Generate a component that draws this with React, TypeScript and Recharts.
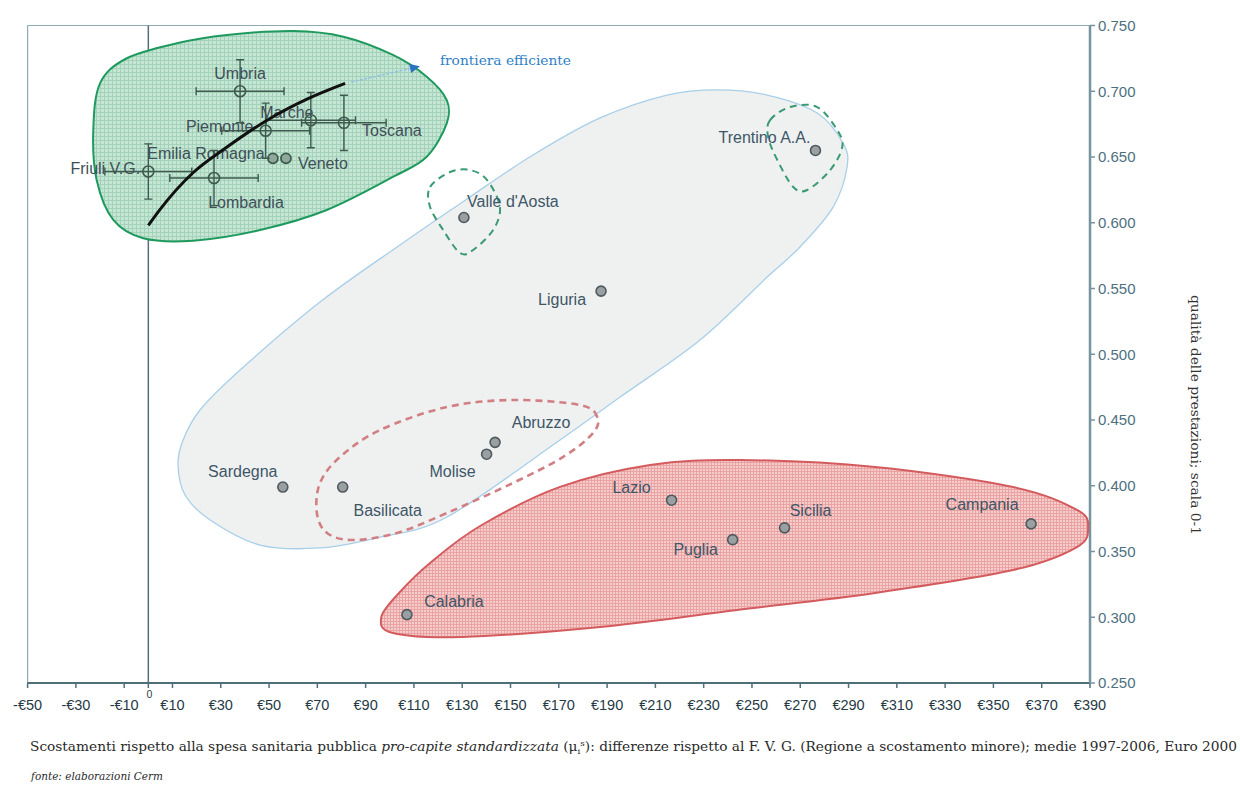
import React from 'react';
import { ScatterChart, Scatter, XAxis, YAxis, ReferenceLine } from 'recharts';

// ---------- axis ticks ----------
const xTicks = [-50, -30, -10, 0, 10, 30, 50, 70, 90, 110, 130, 150, 170, 190, 210, 230, 250, 270, 290, 310, 330, 350, 370, 390];
const yTicks = [0.25, 0.3, 0.35, 0.4, 0.45, 0.5, 0.55, 0.6, 0.65, 0.7, 0.75];

// ---------- regions ----------
const frontierRegions = [
  { name: 'Friuli V.G.', x: 0, y: 0.639, ex: 18, ey: 0.021 },
  { name: 'Lombardia', x: 27.2, y: 0.634, ex: 18.3, ey: 0.021 },
  { name: 'Umbria', x: 38, y: 0.7, ex: 18.2, ey: 0.024 },
  { name: 'Piemonte', x: 48.6, y: 0.67, ex: 18.2, ey: 0.021 },
  { name: 'Marche', x: 67.3, y: 0.678, ex: 18.5, ey: 0.021 },
  { name: 'Toscana', x: 81, y: 0.676, ex: 17.5, ey: 0.021 },
];
const nearFrontierRegions = [
  { name: 'Emilia Romagna', x: 51.6, y: 0.649 },
  { name: 'Veneto', x: 57, y: 0.649 },
];
const otherRegions = [
  { name: 'Trentino A.A.', x: 276.3, y: 0.655 },
  { name: "Valle d'Aosta", x: 130.7, y: 0.604 },
  { name: 'Liguria', x: 187.5, y: 0.548 },
  { name: 'Abruzzo', x: 143.6, y: 0.433 },
  { name: 'Molise', x: 140.1, y: 0.424 },
  { name: 'Sardegna', x: 55.7, y: 0.399 },
  { name: 'Basilicata', x: 80.5, y: 0.399 },
  { name: 'Lazio', x: 216.7, y: 0.389 },
  { name: 'Sicilia', x: 263.5, y: 0.368 },
  { name: 'Puglia', x: 242, y: 0.359 },
  { name: 'Campania', x: 365.6, y: 0.371 },
  { name: 'Calabria', x: 107.1, y: 0.302 },
];

// error-bar end points (pairs) built from the region table
const errorBarsX = frontierRegions.flatMap((r) => [
  { x: r.x - r.ex, y: r.y },
  { x: r.x + r.ex, y: r.y },
]);
const errorBarsY = frontierRegions.flatMap((r) => [
  { x: r.x, y: r.y - r.ey },
  { x: r.x, y: r.y + r.ey },
]);

// ---------- efficient frontier ----------
const frontierCurve = [
  { x: 0, y: 0.598 },
  { x: 4.8, y: 0.61 },
  { x: 18.5, y: 0.638 },
  { x: 32.6, y: 0.6576 },
  { x: 49.2, y: 0.678 },
  { x: 65.7, y: 0.694 },
  { x: 81.5, y: 0.706 },
];
const frontierArrow = [
  { x: 84, y: 0.707 },
  { x: 112.5, y: 0.719 },
];

// ---------- cluster outlines ----------
const greenCluster = [
  { x: 60.1, y: 0.7458 }, { x: 80.8, y: 0.7415 }, { x: 101.3, y: 0.7276 }, { x: 115.3, y: 0.7111 },
  { x: 123.6, y: 0.6933 }, { x: 123.6, y: 0.6756 }, { x: 115.3, y: 0.6502 }, { x: 101.5, y: 0.635 },
  { x: 73.9, y: 0.6097 }, { x: 46.3, y: 0.5945 }, { x: 18.6, y: 0.5864 }, { x: -2.1, y: 0.5882 },
  { x: -14.5, y: 0.6021 }, { x: -21.4, y: 0.6325 }, { x: -22.8, y: 0.6705 }, { x: -20, y: 0.706 },
  { x: -8.9, y: 0.7251 }, { x: 11.8, y: 0.7365 }, { x: 32.5, y: 0.7428 },
];
const greyCluster = [
  { x: 12.3, y: 0.4158 }, { x: 14.4, y: 0.4348 }, { x: 21.4, y: 0.4576 }, { x: 38, y: 0.488 },
  { x: 71.1, y: 0.5397 }, { x: 104.2, y: 0.5831 }, { x: 132, y: 0.6181 }, { x: 159.3, y: 0.6515 },
  { x: 187.1, y: 0.6797 }, { x: 214.8, y: 0.6971 }, { x: 235.6, y: 0.701 }, { x: 256.3, y: 0.6971 },
  { x: 277, y: 0.6835 }, { x: 287.7, y: 0.6606 }, { x: 289.4, y: 0.6424 }, { x: 283.6, y: 0.6119 },
  { x: 269.9, y: 0.5816 }, { x: 256.3, y: 0.5587 }, { x: 228.5, y: 0.5108 }, { x: 195.4, y: 0.4675 },
  { x: 170.5, y: 0.4348 }, { x: 123.7, y: 0.3762 }, { x: 96, y: 0.361 }, { x: 71.1, y: 0.3527 },
  { x: 46.3, y: 0.3549 }, { x: 25.6, y: 0.374 }, { x: 15.2, y: 0.393 },
];
const redCluster = [
  { x: 96.5, y: 0.3002 }, { x: 104.2, y: 0.3192 }, { x: 116.7, y: 0.3413 }, { x: 137.4, y: 0.3694 },
  { x: 170.5, y: 0.3991 }, { x: 207.8, y: 0.4158 }, { x: 245, y: 0.4196 }, { x: 301, y: 0.4142 },
  { x: 358.1, y: 0.399 }, { x: 384.6, y: 0.3816 }, { x: 389.2, y: 0.3686 }, { x: 384.6, y: 0.3534 },
  { x: 358.1, y: 0.3359 }, { x: 301, y: 0.3185 }, { x: 243.8, y: 0.3055 }, { x: 187.1, y: 0.2926 },
  { x: 129.9, y: 0.285 }, { x: 101.3, y: 0.288 },
];
const redDashedCluster = [
  { x: 185.9, y: 0.4523 }, { x: 178.8, y: 0.4614 }, { x: 151, y: 0.4652 }, { x: 123.7, y: 0.4599 },
  { x: 96, y: 0.4424 }, { x: 79.4, y: 0.4219 }, { x: 71.1, y: 0.4021 }, { x: 69.8, y: 0.3793 },
  { x: 74, y: 0.3641 }, { x: 84.8, y: 0.3587 }, { x: 103, y: 0.3641 }, { x: 123.7, y: 0.3793 },
  { x: 151, y: 0.4021 }, { x: 171.8, y: 0.4219 }, { x: 184.2, y: 0.4401 },
];
const aostaDashed = [
  { x: 116.7, y: 0.6272 }, { x: 125, y: 0.6386 }, { x: 133.2, y: 0.6401 }, { x: 140.3, y: 0.6325 },
  { x: 145.6, y: 0.612 }, { x: 142.8, y: 0.5945 }, { x: 134.5, y: 0.5793 }, { x: 129.1, y: 0.577 },
  { x: 122.1, y: 0.5945 }, { x: 116.7, y: 0.612 },
];
const trentinoDashed = [
  { x: 257.5, y: 0.6781 }, { x: 265.8, y: 0.688 }, { x: 277, y: 0.688 }, { x: 285.3, y: 0.6705 },
  { x: 287.4, y: 0.6576 }, { x: 282.4, y: 0.6401 }, { x: 272.9, y: 0.6249 }, { x: 267.1, y: 0.6272 },
  { x: 260.5, y: 0.6477 }, { x: 256.7, y: 0.6652 },
];

// ---------- label placement (pixels relative to point) ----------
const labelOffset: Record<string, [number, number]> = {
  'Friuli V.G.': [-43, -3],
  Lombardia: [32, 24],
  Umbria: [0, -18],
  Piemonte: [-46, -4],
  Marche: [-24, -8],
  Toscana: [48, 8],
  'Emilia Romagna': [-67, -5],
  Veneto: [37, 5],
  'Trentino A.A.': [-51, -13],
  "Valle d'Aosta": [49, -16],
  Liguria: [-39, 8],
  Abruzzo: [46, -20],
  Molise: [-34, 17],
  Sardegna: [-40, -16],
  Basilicata: [45, 23],
  Lazio: [-40, -13],
  Sicilia: [26, -17],
  Puglia: [-37, 10],
  Campania: [-49, -19],
  Calabria: [47, -13],
};

const SANS = '"Liberation Sans", Arial, sans-serif';
const SERIF = '"DejaVu Serif", serif';
const BAR_COLOR = '#3e5a4e';

function closedPath(pts: { x: number; y: number }[]) {
  const n = pts.length;
  let d = `M${pts[0].x},${pts[0].y}`;
  for (let i = 0; i < n; i++) {
    const p0 = pts[(i - 1 + n) % n];
    const p1 = pts[i];
    const p2 = pts[(i + 1) % n];
    const p3 = pts[(i + 2) % n];
    const c1x = p1.x + (p2.x - p0.x) / 6;
    const c1y = p1.y + (p2.y - p0.y) / 6;
    const c2x = p2.x - (p3.x - p1.x) / 6;
    const c2y = p2.y - (p3.y - p1.y) / 6;
    d += ` C${c1x},${c1y} ${c2x},${c2y} ${p2.x},${p2.y}`;
  }
  return d + 'Z';
}

const blob = (style: any) => (props: any) => {
  const pts = (props.points || []).filter((p: any) => p && p.x != null && p.y != null);
  if (pts.length < 3) return <g />;
  return <path d={closedPath(pts)} {...style} />;
};

const errorBarRender = (dir: 'x' | 'y') => (props: any) => {
  const pts = props.points || [];
  const out: React.ReactNode[] = [];
  const cap = 4;
  for (let i = 0; i + 1 < pts.length; i += 2) {
    const a = pts[i];
    const b = pts[i + 1];
    if (!a || !b || a.x == null || b.x == null) continue;
    out.push(<line key={`s${i}`} x1={a.x} y1={a.y} x2={b.x} y2={b.y} />);
    if (dir === 'x') {
      out.push(<line key={`a${i}`} x1={a.x} y1={a.y - cap} x2={a.x} y2={a.y + cap} />);
      out.push(<line key={`b${i}`} x1={b.x} y1={b.y - cap} x2={b.x} y2={b.y + cap} />);
    } else {
      out.push(<line key={`a${i}`} x1={a.x - cap} y1={a.y} x2={a.x + cap} y2={a.y} />);
      out.push(<line key={`b${i}`} x1={b.x - cap} y1={b.y} x2={b.x + cap} y2={b.y} />);
    }
  }
  return (
    <g stroke={BAR_COLOR} strokeWidth={1.4} fill="none">
      {out}
    </g>
  );
};

const noShape = () => <g />;

const arrowRender = (props: any) => {
  const pts = (props.points || []).filter((p: any) => p && p.x != null);
  if (pts.length < 2) return <g />;
  const a = pts[0];
  const b = pts[pts.length - 1];
  const ang = Math.atan2(b.y - a.y, b.x - a.x);
  const L = 10;
  const W = 4.5;
  const bx = b.x - L * Math.cos(ang);
  const by = b.y - L * Math.sin(ang);
  const tri = `M${b.x},${b.y} L${bx - W * Math.sin(ang)},${by + W * Math.cos(ang)} L${bx + W * Math.sin(ang)},${by - W * Math.cos(ang)} Z`;
  return (
    <g>
      <line x1={a.x} y1={a.y} x2={bx} y2={by} stroke="#8fc0e3" strokeWidth={1.4} strokeDasharray="3 1.5" />
      <path d={tri} fill="#2a72bf" />
      <text x={b.x + 20} y={b.y - 1} fontFamily={SERIF} fontSize={13.5} fill="#2f7fc6" textLength={131} lengthAdjust="spacingAndGlyphs">
        frontiera efficiente
      </text>
    </g>
  );
};

const RegionLabel = ({ cx, cy, name, color }: any) => {
  const off = labelOffset[name] || [0, -14];
  return (
    <text x={cx + off[0]} y={cy + off[1]} textAnchor="middle" dominantBaseline="central" fontFamily={SANS} fontSize={16} fill={color}>
      {name}
    </text>
  );
};

const HollowPoint = (props: any) => {
  const { cx, cy, payload } = props;
  if (cx == null || cy == null) return <g />;
  return (
    <g>
      <RegionLabel cx={cx} cy={cy} name={payload.name} color="#3f4f58" />
      <circle cx={cx} cy={cy} r={5.5} fill="none" stroke={BAR_COLOR} strokeWidth={1.6} />
    </g>
  );
};

const GreyHollowPoint = (props: any) => {
  const { cx, cy, payload } = props;
  if (cx == null || cy == null) return <g />;
  return (
    <g>
      <RegionLabel cx={cx} cy={cy} name={payload.name} color="#3f4f58" />
      <circle cx={cx} cy={cy} r={5} fill="#8fa89b" stroke={BAR_COLOR} strokeWidth={1.8} />
    </g>
  );
};

const FilledPoint = (props: any) => {
  const { cx, cy, payload } = props;
  if (cx == null || cy == null) return <g />;
  return (
    <g>
      <RegionLabel cx={cx} cy={cy} name={payload.name} color="#3e5666" />
      <circle cx={cx} cy={cy} r={5} fill="#9aa0a2" stroke="#4f5a5f" strokeWidth={1.6} />
    </g>
  );
};

const XTick = (props: any) => {
  const { x, y, payload } = props;
  const v = payload.value;
  if (v === 0) {
    return (
      <text x={x + 1} y={y - 2} textAnchor="middle" fontFamily={SANS} fontSize={10.5} fill="#2c3e48">
        0
      </text>
    );
  }
  const label = v < 0 ? `-€${-v}` : `€${v}`;
  return (
    <text x={x} y={y} dy="0.71em" textAnchor="middle" fontFamily={SANS} fontSize={14.5} fill="#263a45">
      {label}
    </text>
  );
};

export default function App() {
  return (
    <div style={{ position: 'absolute', left: 0, top: 0, width: 1240, height: 787, background: '#ffffff' }}>
      <svg width={0} height={0} style={{ position: 'absolute' }}>
        <defs>
          <pattern id="gridGreen" width={4} height={4} patternUnits="userSpaceOnUse">
            <rect width={4} height={4} fill="#c6e6d4" />
            <path d="M0,0.5H4M0.5,0V4" stroke="#a3d1b9" strokeWidth={1} />
          </pattern>
          <pattern id="gridRed" width={3} height={3} patternUnits="userSpaceOnUse">
            <rect width={3} height={3} fill="#f6cdcd" />
            <path d="M0,0.5H3M0.5,0V3" stroke="#e9a3a3" strokeWidth={1} />
          </pattern>
        </defs>
      </svg>
      <ScatterChart
        width={1240}
        height={787}
        margin={{ top: 25.5, right: 90, bottom: 74, left: 27.6 }}
        style={{ fontFamily: SANS }}
      >
        <XAxis
          type="number"
          dataKey="x"
          domain={[-50, 390]}
          ticks={xTicks}
          interval={0}
          allowDataOverflow
          height={30}
          tickSize={5}
          tickMargin={12}
          tick={<XTick />}
          axisLine={{ stroke: '#4f6f7a', strokeWidth: 2 }}
          tickLine={{ stroke: '#4f6f7a', strokeWidth: 1.5 }}
        />
        <YAxis
          type="number"
          dataKey="y"
          orientation="right"
          domain={[0.25, 0.75]}
          ticks={yTicks}
          interval={0}
          allowDataOverflow
          width={60}
          tickSize={5}
          tickMargin={3}
          tickFormatter={(v: number) => v.toFixed(3)}
          tick={{ fill: '#4d7080', fontSize: 15, fontFamily: SANS }}
          axisLine={{ stroke: '#7594a0', strokeWidth: 2.5 }}
          tickLine={{ stroke: '#7594a0', strokeWidth: 1.5 }}
        />
        <ReferenceLine y={0.75} stroke="#8eabb5" strokeWidth={1.2} />
        <ReferenceLine x={-50} stroke="#8eabb5" strokeWidth={1.2} />

        <Scatter data={greyCluster} shape={noShape} line={blob({ fill: '#eff1f1', stroke: '#a8cfe9', strokeWidth: 1.3 })} isAnimationActive={false} />
        <Scatter data={redCluster} shape={noShape} line={blob({ fill: 'url(#gridRed) #f2bcbc', stroke: '#d35b5e', strokeWidth: 2 })} isAnimationActive={false} />
        <Scatter data={greenCluster} shape={noShape} line={blob({ fill: 'url(#gridGreen) #bcdfcc', stroke: '#1f9a5e', strokeWidth: 2 })} isAnimationActive={false} />
        <Scatter data={redDashedCluster} shape={noShape} line={blob({ fill: 'none', stroke: '#d27f83', strokeWidth: 2.6, strokeDasharray: '7 5' })} isAnimationActive={false} />
        <Scatter data={aostaDashed} shape={noShape} line={blob({ fill: 'none', stroke: '#3a9a72', strokeWidth: 2, strokeDasharray: '7 5' })} isAnimationActive={false} />
        <Scatter data={trentinoDashed} shape={noShape} line={blob({ fill: 'none', stroke: '#3a9a72', strokeWidth: 2, strokeDasharray: '7 5' })} isAnimationActive={false} />

        <ReferenceLine x={0} stroke="#56707a" strokeWidth={1.5} />

        <Scatter data={nearFrontierRegions} shape={GreyHollowPoint} isAnimationActive={false} />
        <Scatter data={frontierRegions} shape={HollowPoint} isAnimationActive={false} />
        <Scatter data={errorBarsX} shape={noShape} line={errorBarRender('x')} isAnimationActive={false} />
        <Scatter data={errorBarsY} shape={noShape} line={errorBarRender('y')} isAnimationActive={false} />
        <Scatter data={frontierCurve} shape={noShape} line={{ stroke: '#111111', strokeWidth: 3 }} lineJointType="monotoneX" isAnimationActive={false} />
        <Scatter data={frontierArrow} shape={noShape} line={arrowRender} isAnimationActive={false} />
        <Scatter data={otherRegions} shape={FilledPoint} isAnimationActive={false} />
      </ScatterChart>

      <svg width={1240} height={787} style={{ position: 'absolute', left: 0, top: 0, pointerEvents: 'none' }}>
        <text
          x={1195}
          y={415}
          transform="rotate(90 1195 415)"
          textAnchor="middle"
          dominantBaseline="central"
          fontFamily={SERIF}
          fontSize={12.5}
          fill="#333333"
          textLength={240}
          lengthAdjust="spacingAndGlyphs"
        >
          qualità delle prestazioni; scala 0-1
        </text>
        <text x={30} y={751} fontFamily={SERIF} fontSize={12.5} fill="#2a2a2a" textLength={1207} lengthAdjust="spacingAndGlyphs">
          Scostamenti rispetto alla spesa sanitaria pubblica{' '}
          <tspan fontStyle="italic">pro-capite standardizzata</tspan> (μ
          <tspan fontSize={8} dy={3}>i</tspan>
          <tspan fontSize={8} dy={-8}>s</tspan>
          <tspan dy={5}>): differenze rispetto al F. V. G. (Regione a scostamento minore); medie 1997-2006, Euro 2000</tspan>
        </text>
        <text x={31} y={780} fontFamily={SERIF} fontSize={10.5} fontStyle="italic" fill="#2a2a2a" textLength={132} lengthAdjust="spacingAndGlyphs">
          fonte: elaborazioni Cerm
        </text>
      </svg>
    </div>
  );
}
